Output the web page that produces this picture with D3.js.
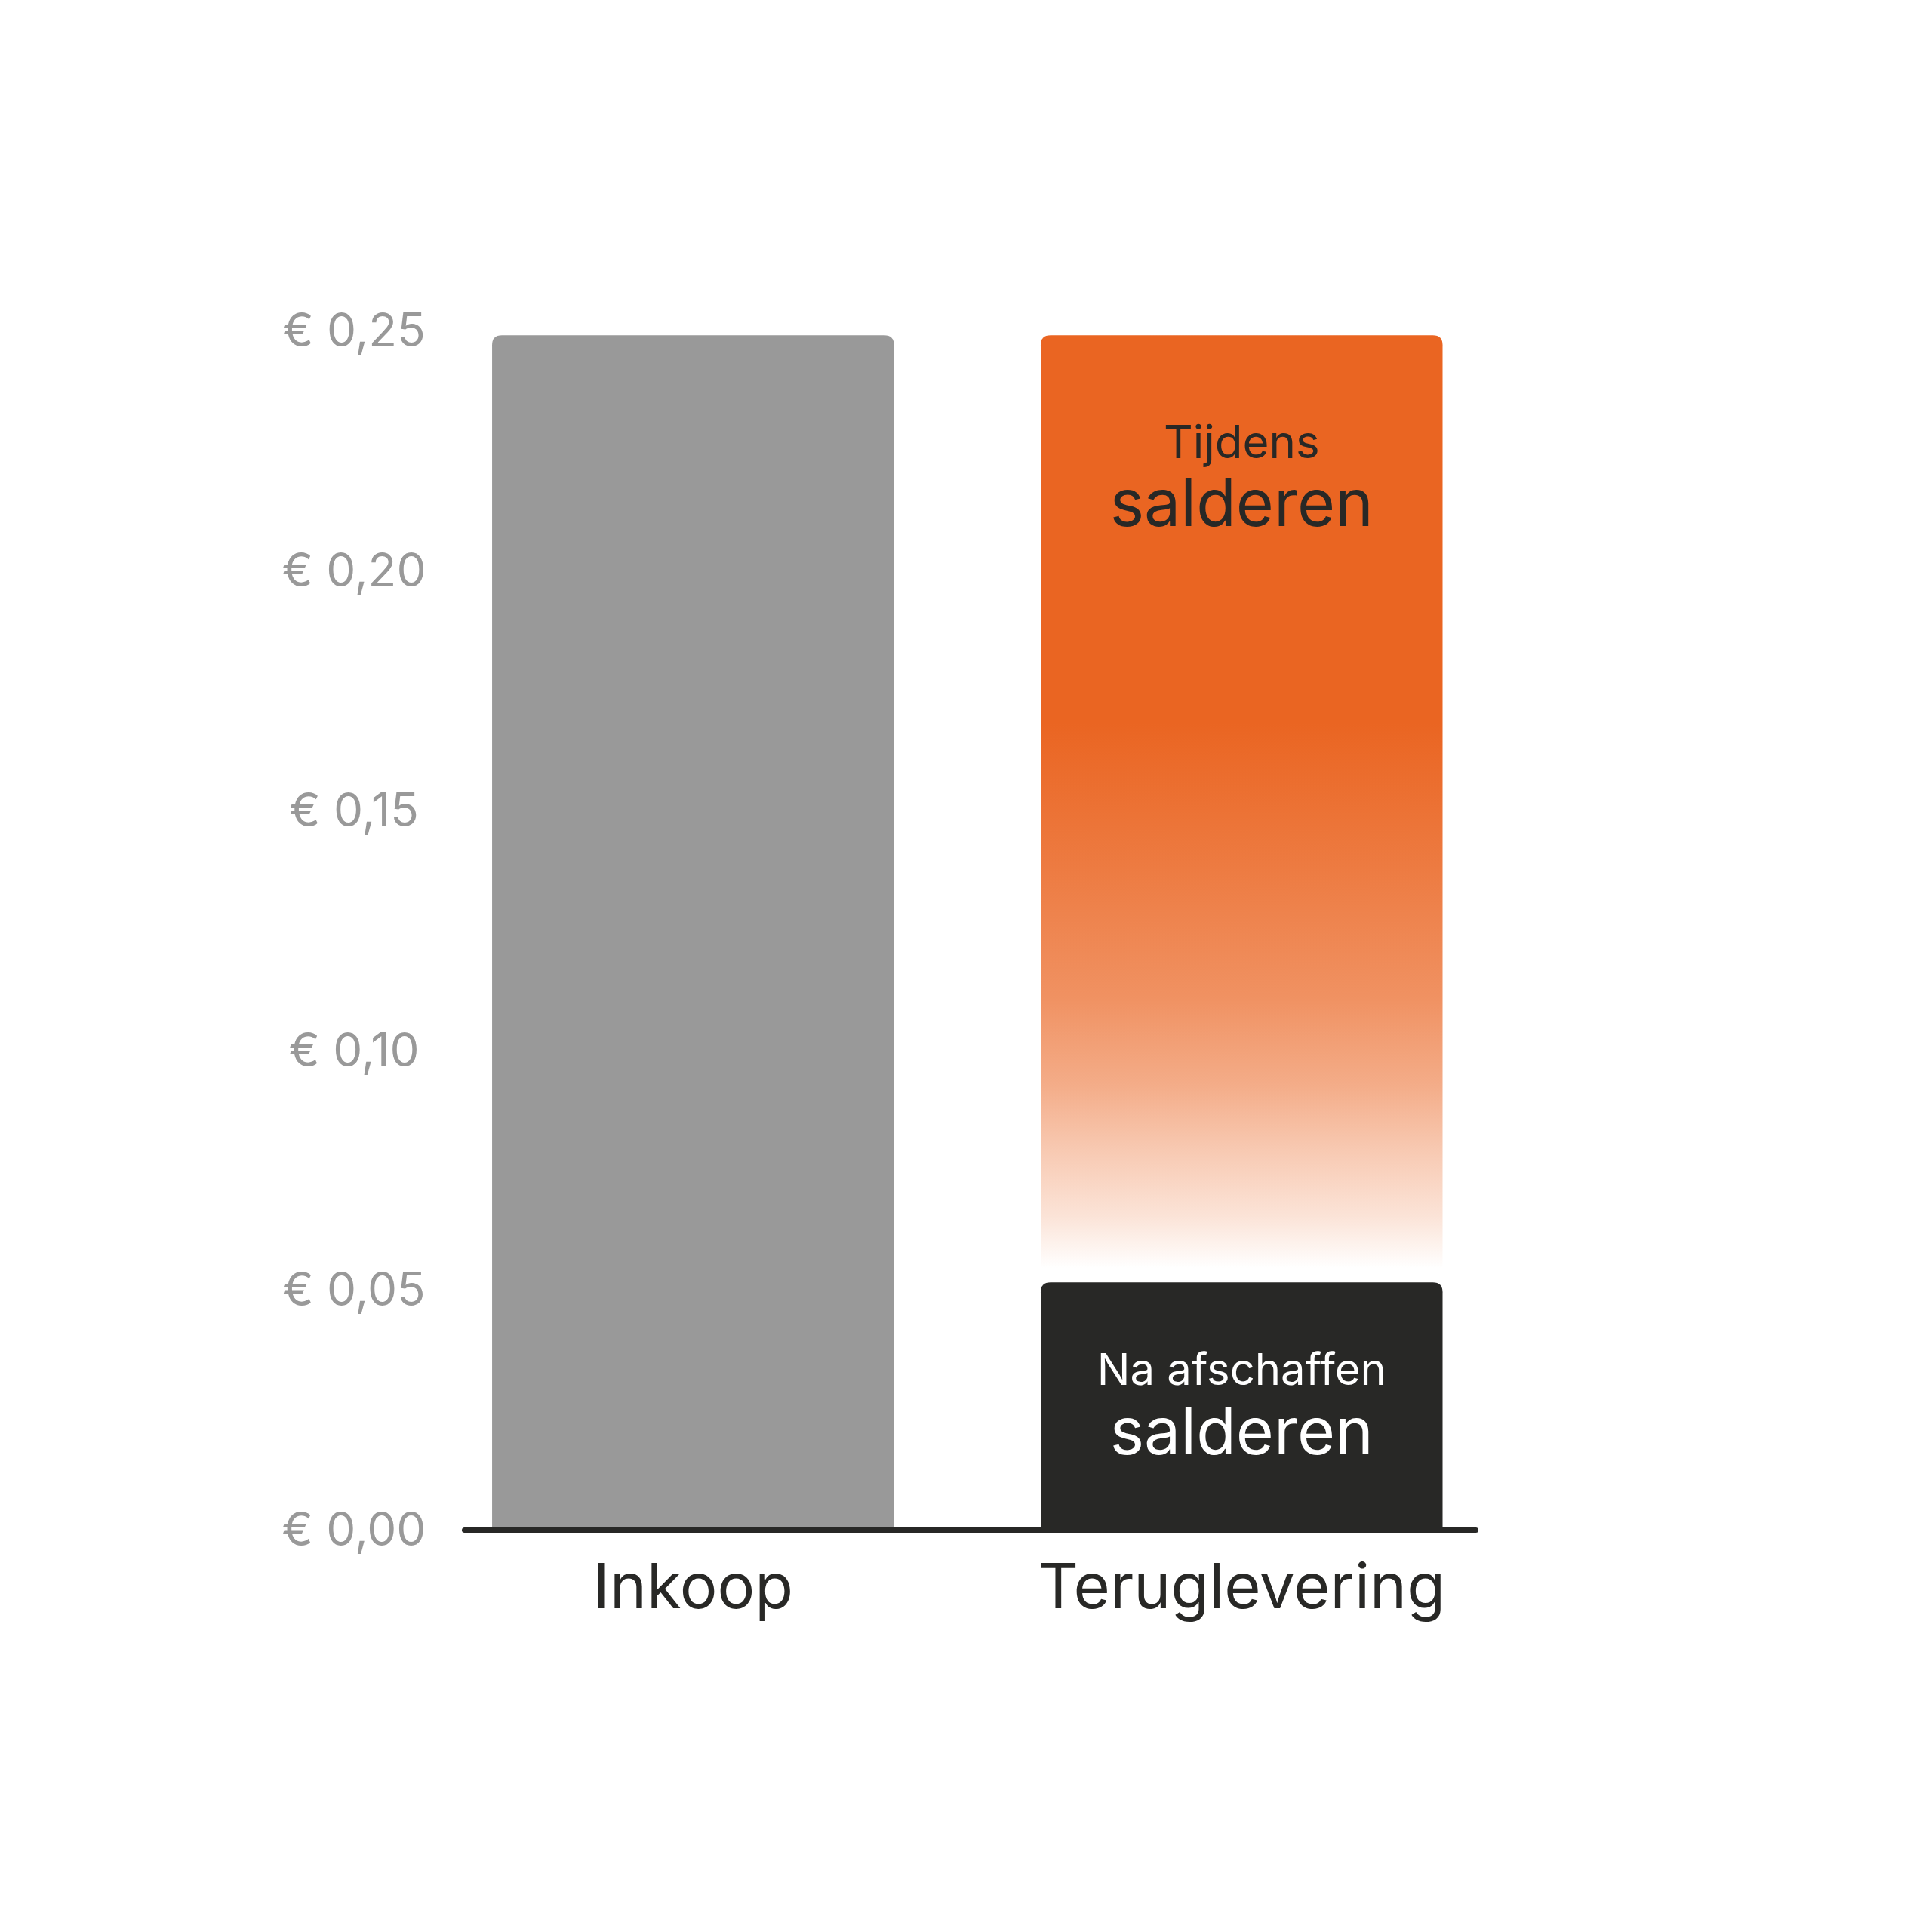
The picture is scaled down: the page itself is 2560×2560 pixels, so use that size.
<!DOCTYPE html>
<html>
<head>
<meta charset="utf-8">
<script src="https://cdn.jsdelivr.net/npm/d3@7"></script>
<style>
  html, body { margin: 0; padding: 0; background: #ffffff; }
  svg { display: block; }
  text { font-family: Inter, "Noto Sans", sans-serif; }
</style>
</head>
<body>
<svg id="chart" width="2560" height="2560"></svg>
<script>
// Price per kWh (euro)
const categories = ["Inkoop", "Teruglevering"];
const tijdensSalderen = [0.2487, 0.2487];   // purchase price / feed-in while netting applies
const naAfschaffen = [null, 0.0513];         // feed-in after netting ends
const tickValues = [0, 0.05, 0.10, 0.15, 0.20, 0.25];
const tickLabels = ["€ 0,00", "€ 0,05", "€ 0,10", "€ 0,15", "€ 0,20", "€ 0,25"];
const barLabelsTop = ["Tijdens", "salderen"];
const barLabelsBottom = ["Na afschaffen", "salderen"];

const GREY = "#999999", ORANGE = "#ea6522", DARK = "#282826";

const svg = d3.select("#chart");

const y = d3.scaleLinear().domain([0, 0.25]).range([2025.5, 436]);
const x = d3.scaleBand().domain(categories).range([615, 1955])
  .paddingInner(0.2675).paddingOuter(0.0554).align(0.46);

const bw = x.bandwidth();
const r = 13;

// Path for a bar with rounded top corners and a square base
function topRounded(x0, y0, w, y1) {
  return `M${x0},${y1}V${y0 + r}Q${x0},${y0} ${x0 + r},${y0}H${x0 + w - r}Q${x0 + w},${y0} ${x0 + w},${y0 + r}V${y1}Z`;
}

// Vertical fade of the netting bar
const defs = svg.append("defs");
const grad = defs.append("linearGradient").attr("id", "fade")
  .attr("x1", 0).attr("x2", 0).attr("y1", 0).attr("y2", 1);
const stops = [
  [0, 1], [0.41, 1], [0.56, 0.86], [0.70, 0.71], [0.79, 0.54],
  [0.86, 0.35], [0.93, 0.18], [0.985, 0]
];
grad.selectAll("stop").data(stops).join("stop")
  .attr("offset", d => d[0])
  .attr("stop-color", ORANGE)
  .attr("stop-opacity", d => d[1]);

// Grey purchase bar and faded netting bar
svg.append("g").selectAll("path.top").data(categories).join("path")
  .attr("class", "top")
  .attr("d", (c, i) => {
    const bottom = naAfschaffen[i] == null ? y(0) : y(naAfschaffen[i]);
    return topRounded(x(c), y(tijdensSalderen[i]), bw, bottom);
  })
  .attr("fill", (c, i) => naAfschaffen[i] == null ? GREY : "url(#fade)");

// Feed-in after netting ends
svg.append("g").selectAll("path.low").data(categories.filter((c, i) => naAfschaffen[i] != null)).join("path")
  .attr("class", "low")
  .attr("d", c => {
    const i = categories.indexOf(c);
    return topRounded(x(c), y(naAfschaffen[i]), bw, y(0));
  })
  .attr("fill", DARK);

// Y axis labels
const yAxis = d3.axisLeft(y).tickValues(tickValues)
  .tickFormat((d, i) => tickLabels[i]).tickSize(0).tickPadding(0);
const yg = svg.append("g").attr("transform", "translate(469,0)").call(yAxis);
yg.select(".domain").remove();
yg.selectAll("text")
  .attr("x", 0).attr("dy", "0.36em")
  .attr("text-anchor", "middle")
  .attr("fill", GREY)
  .style("font-size", "62px")
  .style("font-family", "Inter, sans-serif");

// X axis baseline with category names
const xAxis = d3.axisBottom(x).tickSize(0).tickSizeOuter(0).tickPadding(0);
const xg = svg.append("g").attr("transform", "translate(0,2027)").call(xAxis);
xg.select(".domain")
  .attr("stroke", DARK).attr("stroke-width", 7).attr("stroke-linecap", "round");
xg.selectAll("text")
  .attr("y", 104).attr("dy", 0)
  .attr("fill", DARK)
  .style("font-size", "83px")
  .style("font-family", "Inter, sans-serif");

// Labels inside the Teruglevering bar
const cx = x("Teruglevering") + bw / 2;
const inner = svg.append("g").attr("text-anchor", "middle");
inner.append("text").attr("x", cx).attr("y", 607)
  .attr("fill", DARK).style("font-size", "60px").text(barLabelsTop[0]);
inner.append("text").attr("x", cx).attr("y", 697)
  .attr("fill", DARK).style("font-size", "86px").text(barLabelsTop[1]);
inner.append("text").attr("x", cx).attr("y", 1835)
  .attr("fill", "#ffffff").style("font-size", "58px").text(barLabelsBottom[0]);
inner.append("text").attr("x", cx).attr("y", 1927)
  .attr("fill", "#ffffff").style("font-size", "86px").text(barLabelsBottom[1]);
</script>
</body>
</html>
